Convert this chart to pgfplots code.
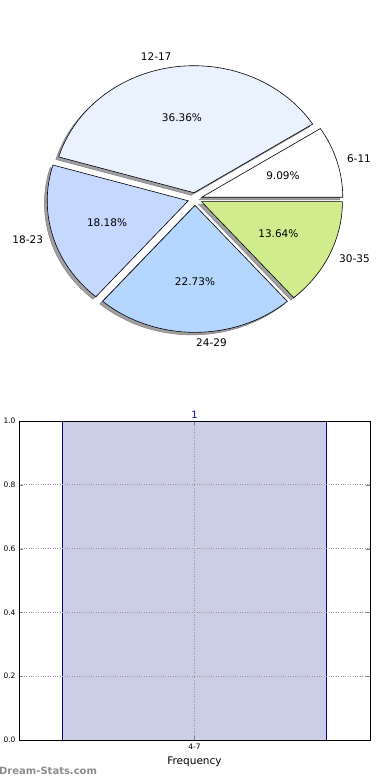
\documentclass[border=0pt]{standalone}
\usepackage{pgfplots}
\pgfplotsset{compat=1.18}
\usepackage{pgfplotstable}
\usepackage{fontspec}
\setmainfont{DejaVu Sans}
\definecolor{c1}{RGB}{255,255,255}
\definecolor{c2}{RGB}{234,242,255}
\definecolor{c3}{RGB}{197,216,255}
\definecolor{c4}{RGB}{180,214,255}
\definecolor{c5}{RGB}{208,236,140}
\definecolor{shadowgray}{RGB}{160,160,162}
\definecolor{barfill}{RGB}{204,205,230}
\definecolor{baredge}{RGB}{0,0,140}
\newcommand\pielabfont{\fontsize{10.5}{12}\selectfont}

\pgfplotstableread{
label value col
6-11 2 c1
12-17 8 c2
18-23 4 c3
24-29 5 c4
30-35 3 c5
}\piedata

\pgfplotstableread{
x y
0 1
}\bardata

\begin{document}
\begin{tikzpicture}
\path[use as bounding box] (0,0) rectangle (390pt,-780pt);
% ---------------- pie ----------------
\begin{axis}[at={(195pt,-199pt)}, anchor=origin, x=141pt, y=127pt,
  xmin=-1.3, xmax=1.3, ymin=-1.3, ymax=1.3, hide axis, clip=false]
% shadows
\def\cum{0}
\pgfplotsforeachungrouped \i in {0,...,4}{%
  \pgfplotstablegetelem{\i}{value}\of\piedata \let\pv\pgfplotsretval
  \pgfmathsetmacro\sa{\cum/22*360}%
  \pgfmathsetmacro\ea{(\cum+\pv)/22*360}%
  \pgfmathsetmacro\ma{(\sa+\ea)/2}%
  \pgfmathsetmacro\ox{0.05*cos(\ma)-0.02}%
  \pgfmathsetmacro\oy{0.05*sin(\ma)-0.02}%
  \pgfmathsetmacro\px{\ox+cos(\sa)}%
  \pgfmathsetmacro\py{\oy+sin(\sa)}%
  \edef\temp{\noexpand\fill[shadowgray, draw=shadowgray!80!black, line width=0.5pt] (axis cs:\ox,\oy) -- (axis cs:\px,\py) arc[start angle=\sa, end angle=\ea, x radius=141pt, y radius=127pt] -- cycle;}%
  \temp
  \pgfmathsetmacro\cum{\cum+\pv}%
}
% wedges
\def\cum{0}
\pgfplotsforeachungrouped \i in {0,...,4}{%
  \pgfplotstablegetelem{\i}{value}\of\piedata \let\pv\pgfplotsretval
  \pgfplotstablegetelem{\i}{label}\of\piedata \let\plab\pgfplotsretval
  \pgfplotstablegetelem{\i}{col}\of\piedata \let\pcol\pgfplotsretval
  \pgfmathsetmacro\sa{\cum/22*360}%
  \pgfmathsetmacro\ea{(\cum+\pv)/22*360}%
  \pgfmathsetmacro\ma{(\sa+\ea)/2}%
  \pgfmathsetmacro\ox{0.05*cos(\ma)}%
  \pgfmathsetmacro\oy{0.05*sin(\ma)}%
  \pgfmathsetmacro\px{\ox+cos(\sa)}%
  \pgfmathsetmacro\py{\oy+sin(\sa)}%
  \pgfmathsetmacro\lx{\ox+1.065*cos(\ma)}%
  \pgfmathsetmacro\ly{\oy+1.08*sin(\ma)}%
  \pgfmathsetmacro\tx{\ox+0.6*cos(\ma)}%
  \pgfmathsetmacro\ty{\oy+0.6*sin(\ma)}%
  \pgfmathsetmacro\cc{cos(\ma)}%
  \ifdim\cc pt>-0.01pt \def\anc{west}\else\def\anc{east}\fi
  \pgfmathsetmacro\pct{\pv/22*100}%
  \pgfmathprintnumberto[fixed,fixed zerofill,precision=2,assume math mode=true]{\pct}{\pctstr}%
  \edef\temp{\noexpand\fill[\pcol, draw=black, line width=0.6pt] (axis cs:\ox,\oy) -- (axis cs:\px,\py) arc[start angle=\sa, end angle=\ea, x radius=141pt, y radius=127pt] -- cycle;
    \noexpand\node[anchor=\anc, inner sep=1pt, font=\noexpand\pielabfont] at (axis cs:\lx,\ly) {\plab};
    \noexpand\node[inner sep=0pt, font=\noexpand\pielabfont] at (axis cs:\tx,\ty) {\pctstr\noexpand\%};}%
  \temp
  \pgfmathsetmacro\cum{\cum+\pv}%
}
\end{axis}
% ---------------- bar ----------------
\begin{axis}[at={(19pt,-740pt)}, anchor=south west, scale only axis,
  width=351pt, height=319pt,
  xmin=-0.532, xmax=0.532, ymin=0, ymax=1, clip=false,
  xtick={0}, xticklabels={4-7},
  ytick={0,0.2,0.4,0.6,0.8,1.0},
  yticklabel style={/pgf/number format/.cd, fixed, fixed zerofill, precision=1},
  /pgf/number format/assume math mode=true,
  tick label style={font=\fontsize{7.5}{9}\selectfont},
  tick align=inside, major tick length=4pt,
  grid=major, major grid style={dotted, gray!80, line width=0.7pt},
  axis line style={black, line width=0.8pt},
  xlabel={Frequency}, xlabel style={font=\fontsize{10.5}{12}\selectfont, yshift=-1pt},
  axis on top=true]
\addplot[ybar, bar width=0.8, fill=barfill, draw=baredge, line width=0.6pt,
  nodes near coords, nodes near coords style={text=blue!80!black, font=\fontsize{10}{12}\selectfont, inner sep=2.5pt}]
  table[x=x, y=y] {\bardata};
\end{axis}
\node[anchor=west, inner sep=0pt, text=black!45, font=\bfseries\fontsize{10}{12}\selectfont] at (-1pt,-771pt) {Dream-Stats.com};
\end{tikzpicture}
\end{document}
